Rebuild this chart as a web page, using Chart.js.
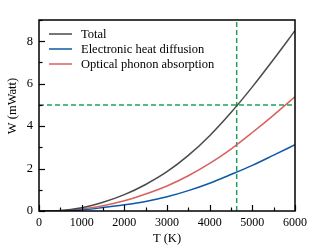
<!DOCTYPE html>
<html>
<head>
<meta charset="utf-8">
<script src="https://cdn.jsdelivr.net/npm/chart.js@4"></script>
<style>
  html, body { margin: 0; padding: 0; background: #fff; }
  #wrap { width: 315px; height: 251px; }
</style>
</head>
<body>
<div id="wrap"><canvas id="chart" width="315" height="251"></canvas></div>
<script>
// temperature samples (K)
const temps = [0, 500, 1000, 1500, 2000, 2500, 3000, 3500, 4000, 4500, 5000, 5500, 6000]
// power values (mWatt)
const total = [0, 0.02, 0.15, 0.41, 0.77, 1.25, 1.85, 2.62, 3.55, 4.64, 5.85, 7.15, 8.5]
const electronic = [0, 0.01, 0.05, 0.16, 0.29, 0.45, 0.67, 0.96, 1.31, 1.72, 2.15, 2.63, 3.12]
const optical = [0, 0.01, 0.1, 0.25, 0.48, 0.8, 1.18, 1.66, 2.24, 2.92, 3.7, 4.52, 5.38]
const seriesNames = ['Total', 'Electronic heat diffusion', 'Optical phonon absorption']
// marker lines
const markT = 4633
const markW = 5
const xTicks = [0, 1000, 2000, 3000, 4000, 5000, 6000]
const yTicks = [0, 2, 4, 6, 8]
const xTitle = 'T (K)'
const yTitle = 'W (mWatt)'

const FONT = 'Liberation Serif'
const colors = ['#4a4a4a', '#0b5aa6', '#d9605f']
const green = '#22a05a'

const toPts = vals => temps.map((t, i) => ({ x: t, y: vals[i] }))

const lineSet = (label, vals, color) => ({
  label: label,
  data: toPts(vals),
  borderColor: color,
  borderWidth: 1.5,
  pointRadius: 0,
  cubicInterpolationMode: 'monotone',
  fill: false
})

// inward ticks, frame, axis titles and legend
const decor = {
  id: 'decor',
  afterDatasetsDraw(chart) {
    const ctx = chart.ctx
    const a = chart.chartArea
    const xs = chart.scales.x
    const ys = chart.scales.y
    ctx.save()
    ctx.strokeStyle = '#000'
    ctx.lineWidth = 1.2
    for (let v = 0; v <= 6000; v += 500) {
      const px = Math.round(xs.getPixelForValue(v)) + 0.5
      const len = v % 1000 === 0 ? 6 : 3.5
      ctx.beginPath()
      ctx.moveTo(px, a.bottom)
      ctx.lineTo(px, a.bottom - len)
      ctx.stroke()
    }
    for (let v = 0; v <= 9; v += 1) {
      const py = Math.round(ys.getPixelForValue(v)) + 0.5
      const len = v % 2 === 0 ? 6 : 3.5
      ctx.beginPath()
      ctx.moveTo(a.left, py)
      ctx.lineTo(a.left + len, py)
      ctx.stroke()
    }
    ctx.lineWidth = 1.5
    ctx.strokeRect(a.left, a.top, a.right - a.left, a.bottom - a.top)

    ctx.fillStyle = '#000'
    ctx.font = '12.5px "' + FONT + '"'
    ctx.textAlign = 'center'
    ctx.textBaseline = 'middle'
    ctx.fillText(xTitle, (a.left + a.right) / 2, 239)
    ctx.save()
    ctx.translate(13, 106)
    ctx.rotate(-Math.PI / 2)
    ctx.fillText(yTitle, 0, 0)
    ctx.restore()

    // legend
    ctx.textAlign = 'left'
    for (let i = 0; i < 3; i++) {
      const y = a.top + 14 + i * 15
      ctx.strokeStyle = colors[i]
      ctx.lineWidth = 1.5
      ctx.beginPath()
      ctx.moveTo(a.left + 10, y)
      ctx.lineTo(a.left + 33, y)
      ctx.stroke()
      ctx.fillText(seriesNames[i], a.left + 42, y + 0.5)
    }
    ctx.restore()
  }
}

new Chart(document.getElementById('chart'), {
  type: 'line',
  data: {
    datasets: [
      lineSet(seriesNames[0], total, colors[0]),
      lineSet(seriesNames[1], electronic, colors[1]),
      lineSet(seriesNames[2], optical, colors[2]),
      {
        label: 'markT',
        data: [{ x: markT, y: 0 }, { x: markT, y: 9 }],
        borderColor: green,
        borderWidth: 1.5,
        borderDash: [5, 3],
        pointRadius: 0
      },
      {
        label: 'markW',
        data: [{ x: 0, y: markW }, { x: 6000, y: markW }],
        borderColor: green,
        borderWidth: 1.5,
        borderDash: [5, 3],
        pointRadius: 0
      }
    ]
  },
  options: {
    responsive: false,
    animation: false,
    devicePixelRatio: 1,
    layout: { padding: { top: 20, right: 20, left: 0, bottom: 0 } },
    plugins: {
      legend: { display: false },
      tooltip: { enabled: false }
    },
    scales: {
      x: {
        type: 'linear',
        min: 0,
        max: 6000,
        afterBuildTicks: s => { s.ticks = xTicks.map(v => ({ value: v })) },
        afterFit: s => { s.height = 40 },
        grid: { display: false, drawTicks: false },
        border: { display: false },
        ticks: { color: '#000', padding: 5, maxRotation: 0, callback: v => String(v), font: { family: FONT, size: 12 } }
      },
      y: {
        min: 0,
        max: 9,
        afterBuildTicks: s => { s.ticks = yTicks.map(v => ({ value: v })) },
        afterFit: s => { s.width = 39 },
        grid: { display: false, drawTicks: false },
        border: { display: false },
        ticks: { color: '#000', padding: 6, callback: v => String(v), font: { family: FONT, size: 12.5 } }
      }
    }
  },
  plugins: [decor]
})
</script>
</body>
</html>
